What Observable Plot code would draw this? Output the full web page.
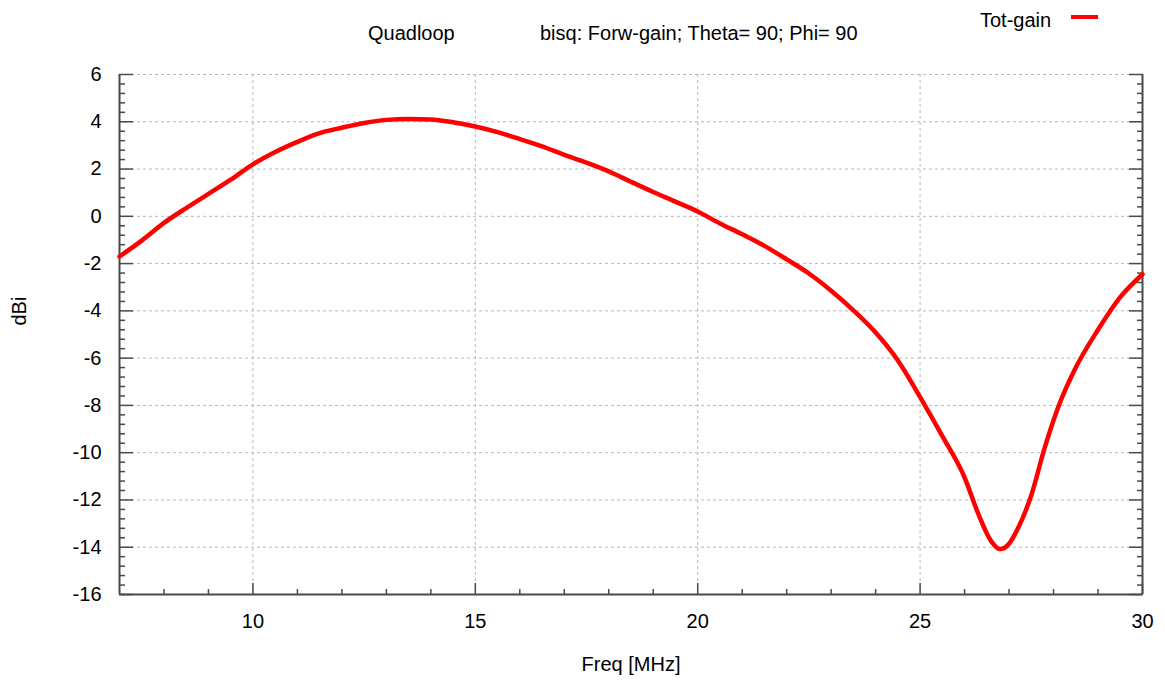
<!DOCTYPE html>
<html><head><meta charset="utf-8">
<script src="https://cdn.jsdelivr.net/npm/d3@7"></script>
<script src="https://cdn.jsdelivr.net/npm/@observablehq/plot@0.6"></script>
<style>
body{margin:0;background:#fff;font-family:"Liberation Sans",Arial,sans-serif;}
#wrap{position:relative;width:1165px;height:680px;overflow:hidden;}
#header{position:relative;height:62px;}
.t{position:absolute;font-size:20px;line-height:23px;color:#000;white-space:nowrap;}
#swatch{position:absolute;left:1071px;top:15px;width:27px;height:4px;background:#ff0000;}
</style></head><body>
<div id="wrap">
  <div id="header">
    <span class="t" style="left:368px;top:22px;">Quadloop</span>
    <span class="t" style="left:540px;top:22px;">bisq: Forw-gain; Theta= 90; Phi= 90</span>
    <span class="t" style="left:980px;top:9px;">Tot-gain</span>
    <div id="swatch"></div>
  </div>
  <div id="chart"></div>
</div>
<script>
// Frequency (MHz)
const freq = [7, 7.5, 8, 8.5, 9, 9.5, 10, 10.5, 11, 11.5, 12, 12.5, 13, 13.5, 14, 14.5, 15, 15.5, 16, 16.5,
  17, 17.5, 18, 18.5, 19, 19.5, 20, 20.5, 21, 21.5, 22, 22.5, 23, 23.5, 24, 24.5, 25, 25.5, 26, 26.3,
  26.6, 26.8, 27.0, 27.2, 27.5, 27.8, 28.1, 28.5, 29, 29.5, 30];
// Tot-gain (dBi)
const gain = [-1.70, -1.03, -0.28, 0.35, 0.95, 1.55, 2.2, 2.72, 3.15, 3.52, 3.75, 3.95, 4.08, 4.12, 4.1, 3.98, 3.8, 3.56, 3.27, 2.96,
  2.6, 2.27, 1.9, 1.46, 1.03, 0.62, 0.2, -0.3, -0.76, -1.25, -1.82, -2.42, -3.15, -3.98, -4.92, -6.1, -7.65, -9.3, -11.05, -12.55,
  -13.75, -14.08, -13.85, -13.2, -11.8, -9.8, -8.1, -6.4, -4.8, -3.42, -2.45];

const xDomain = [7, 30];
const yDomain = [-16, 6];
const xTickLabels = [10, 15, 20, 25, 30];
const xGrid = [10, 15, 20, 25];
const xMinor = [8, 9, 11, 12, 13, 14, 16, 17, 18, 19, 21, 22, 23, 24, 26, 27, 28, 29];
const yTickLabels = [-16, -14, -12, -10, -8, -6, -4, -2, 0, 2, 4, 6];
const yGrid = [-14, -12, -10, -8, -6, -4, -2, 0, 2, 4, 6];
const yMinor = d3.range(-16, 6.001, 0.4).map(v => Math.round(v * 10) / 10).filter(v => Math.abs(v % 2) > 1e-6);
const xTitle = "Freq [MHz]";
const yTitle = "dBi";

const data = freq.map((f, i) => ({f, g: gain[i]}));

const axisColor = "#4a4a4a";
const gridStyle = {stroke: "#b8b8b8", strokeOpacity: 1, strokeWidth: 1, strokeDasharray: "3,3"};
const fmt = d => String(d);

const chart = Plot.plot({
  width: 1165,
  height: 618,
  marginTop: 12,
  marginBottom: 86,
  marginLeft: 119,
  marginRight: 23,
  style: {fontFamily: "'Liberation Sans', Arial, sans-serif", fontSize: "20px", color: "#000", background: "#fff"},
  x: {domain: xDomain},
  y: {domain: yDomain},
  marks: [
    Plot.gridX(xGrid, gridStyle),
    Plot.gridY(yGrid, gridStyle),
    // frame lines (left, right, bottom)
    Plot.ruleX(xDomain, {stroke: axisColor, strokeWidth: 2}),
    Plot.ruleY([yDomain[0]], {stroke: axisColor, strokeWidth: 2}),
    // inward ticks
    Plot.axisY({anchor: "left", ticks: yTickLabels, tickSize: -14, fill: "none", stroke: axisColor, strokeWidth: 1.5, label: null}),
    Plot.axisY({anchor: "left", ticks: yMinor, tickSize: -6, fill: "none", stroke: axisColor, strokeWidth: 1.5, label: null}),
    Plot.axisY({anchor: "right", ticks: yTickLabels, tickSize: -14, fill: "none", stroke: axisColor, strokeWidth: 1.5, label: null}),
    Plot.axisY({anchor: "right", ticks: yMinor, tickSize: -6, fill: "none", stroke: axisColor, strokeWidth: 1.5, label: null}),
    Plot.axisX({anchor: "bottom", ticks: xTickLabels, tickSize: -11, fill: "none", stroke: axisColor, strokeWidth: 1.5, label: null}),
    Plot.axisX({anchor: "bottom", ticks: xMinor, tickSize: -5, fill: "none", stroke: axisColor, strokeWidth: 1.5, label: null}),
    // tick labels + axis titles
    Plot.axisY({anchor: "left", ticks: yTickLabels, tickFormat: fmt, tickSize: 0, tickPadding: 18, fontSize: 20, fill: "#000", label: null}),
    Plot.axisX({anchor: "bottom", ticks: xTickLabels, tickFormat: fmt, tickSize: 0, tickPadding: 19, fontSize: 20, fill: "#000",
      label: xTitle, labelAnchor: "center", labelArrow: "none", labelOffset: 76}),
    Plot.text([yTitle], {frameAnchor: "left", text: d => d, rotate: -90, dx: -100, dy: -9, fontSize: 20, fill: "#000"}),
    Plot.line(data, {x: "f", y: "g", stroke: "#ff0000", strokeWidth: 4.5, curve: "monotone-x"})
  ]
});
document.getElementById("chart").appendChild(chart);
</script>
</body></html>
